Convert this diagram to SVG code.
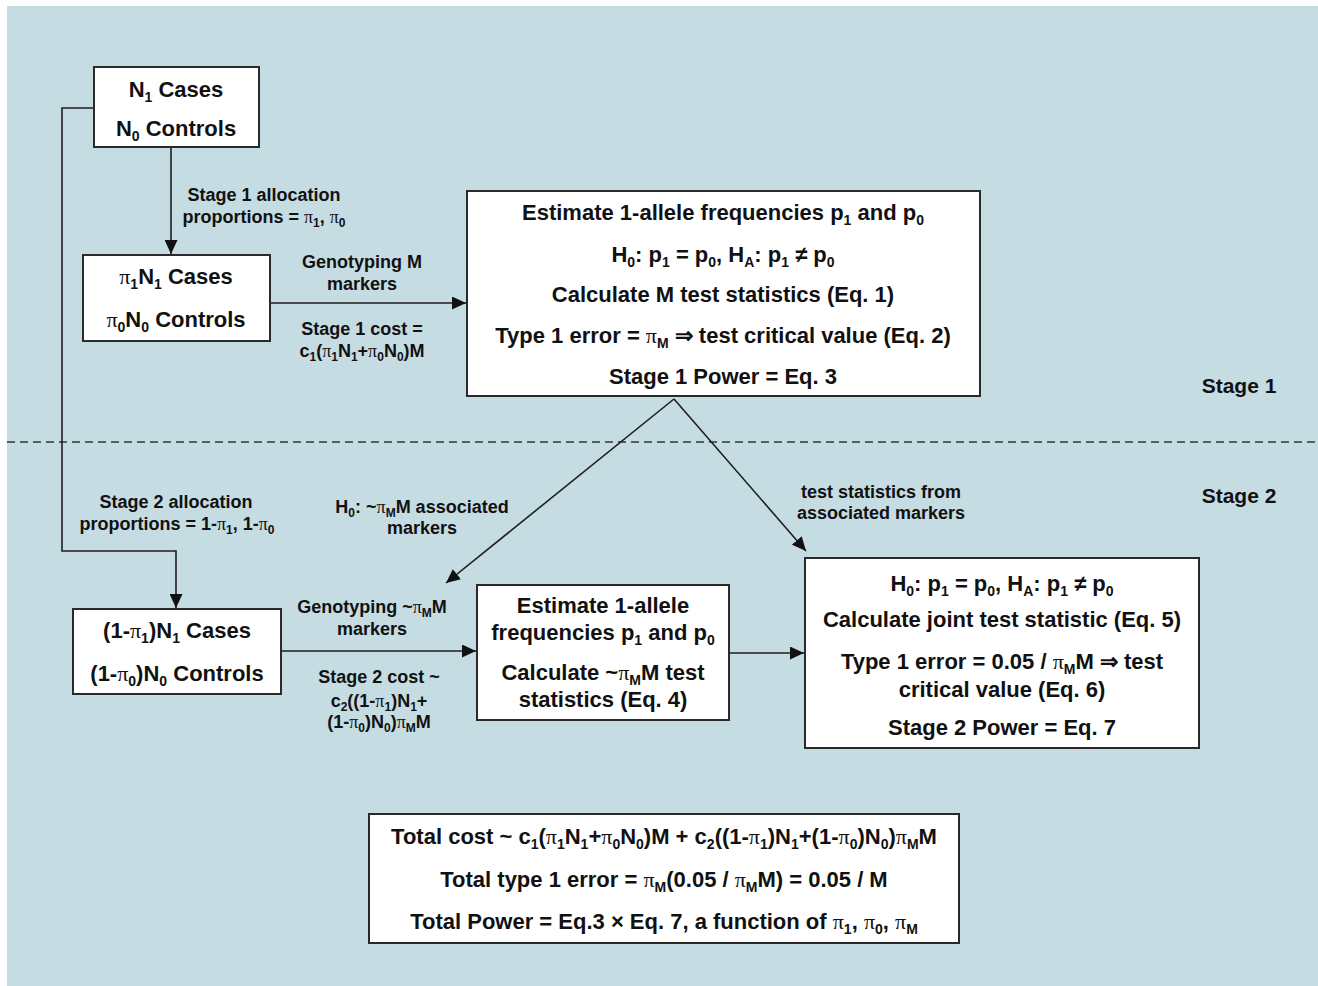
<svg xmlns="http://www.w3.org/2000/svg" width="1318" height="986" viewBox="0 0 1318 986">
<defs>
<style>
.t{font-family:"Liberation Sans",Arial,sans-serif;font-weight:bold;font-size:22px;fill:#111;text-anchor:middle}
.l{font-family:"Liberation Sans",Arial,sans-serif;font-weight:bold;font-size:18px;fill:#111;text-anchor:middle}
.p{font-family:"Liberation Serif","Times New Roman",serif;font-weight:normal}
.t .s{font-size:14px;baseline-shift:-5px}
.l .s{font-size:12px;baseline-shift:-4px}
.box{fill:#fff;stroke:#2a2a2a;stroke-width:2}
.c{fill:none;stroke:#1e1e1e;stroke-width:1.6}
.dash{fill:none;stroke:#333;stroke-width:1.5;stroke-dasharray:8 5}
</style>
<marker id="ah" markerUnits="userSpaceOnUse" markerWidth="15" markerHeight="13" refX="14" refY="6.5" orient="auto">
<path d="M0,0 L14,6.5 L0,13 z" fill="#111"/>
</marker>
</defs>
<rect x="0" y="0" width="1318" height="986" fill="#fff"/>
<rect x="7" y="6" width="1311" height="980" fill="#c6dce3"/>
<line class="dash" x1="7" y1="442" x2="1318" y2="442"/>

<g id="connectors">
<line class="c" x1="171" y1="147" x2="171" y2="254" marker-end="url(#ah)"/>
<line class="c" x1="270" y1="303" x2="466" y2="303" marker-end="url(#ah)"/>
<polyline class="c" points="94,108 62,108 62,551 176,551 176,608" marker-end="url(#ah)"/>
<line class="c" x1="674" y1="399" x2="446" y2="583" marker-end="url(#ah)"/>
<line class="c" x1="674" y1="399" x2="806" y2="551" marker-end="url(#ah)"/>
<line class="c" x1="281" y1="651" x2="476" y2="651" marker-end="url(#ah)"/>
<line class="c" x1="729" y1="653" x2="804" y2="653" marker-end="url(#ah)"/>
</g>

<g id="labels">
<text class="l" x="264" y="201">Stage 1 allocation</text>
<text class="l" x="264" y="223">proportions = <tspan class="p">π</tspan><tspan class="s">1</tspan>, <tspan class="p">π</tspan><tspan class="s">0</tspan></text>
<text class="l" x="362" y="268">Genotyping M</text>
<text class="l" x="362" y="290">markers</text>
<text class="l" x="362" y="335">Stage 1 cost =</text>
<text class="l" x="362" y="357">c<tspan class="s">1</tspan>(<tspan class="p">π</tspan><tspan class="s">1</tspan>N<tspan class="s">1</tspan>+<tspan class="p">π</tspan><tspan class="s">0</tspan>N<tspan class="s">0</tspan>)M</text>
<text class="t" x="1239" y="393" style="font-size:21px">Stage 1</text>
<text class="t" x="1239" y="503" style="font-size:21px">Stage 2</text>
<text class="l" x="176" y="508">Stage 2 allocation</text>
<text class="l" x="177" y="530">proportions = 1-<tspan class="p">π</tspan><tspan class="s">1</tspan>, 1-<tspan class="p">π</tspan><tspan class="s">0</tspan></text>
<text class="l" x="422" y="513">H<tspan class="s">0</tspan>: ~<tspan class="p">π</tspan><tspan class="s">M</tspan>M associated</text>
<text class="l" x="422" y="534">markers</text>
<text class="l" x="881" y="498">test statistics from</text>
<text class="l" x="881" y="519">associated markers</text>
<text class="l" x="372" y="613">Genotyping ~<tspan class="p">π</tspan><tspan class="s">M</tspan>M</text>
<text class="l" x="372" y="635">markers</text>
<text class="l" x="379" y="683">Stage 2 cost ~</text>
<text class="l" x="379" y="707">c<tspan class="s">2</tspan>((1-<tspan class="p">π</tspan><tspan class="s">1</tspan>)N<tspan class="s">1</tspan>+</text>
<text class="l" x="379" y="728">(1-<tspan class="p">π</tspan><tspan class="s">0</tspan>)N<tspan class="s">0</tspan>)<tspan class="p">π</tspan><tspan class="s">M</tspan>M</text>
</g>

<g id="node-sample">
<rect class="box" x="94" y="67" width="165" height="80"/>
<text class="t" x="176" y="97">N<tspan class="s">1</tspan> Cases</text>
<text class="t" x="176" y="136">N<tspan class="s">0</tspan> Controls</text>
</g>

<g id="node-stage1-sample">
<rect class="box" x="83" y="255" width="187" height="86"/>
<text class="t" x="176" y="284"><tspan class="p">π</tspan><tspan class="s">1</tspan>N<tspan class="s">1</tspan> Cases</text>
<text class="t" x="176" y="327"><tspan class="p">π</tspan><tspan class="s">0</tspan>N<tspan class="s">0</tspan> Controls</text>
</g>

<g id="node-stage1-test">
<rect class="box" x="467" y="191" width="513" height="205"/>
<text class="t" x="723" y="220">Estimate 1-allele frequencies p<tspan class="s">1</tspan> and p<tspan class="s">0</tspan></text>
<text class="t" x="723" y="262">H<tspan class="s">0</tspan>: p<tspan class="s">1</tspan> = p<tspan class="s">0</tspan>, H<tspan class="s">A</tspan>: p<tspan class="s">1</tspan> ≠ p<tspan class="s">0</tspan></text>
<text class="t" x="723" y="302">Calculate M test statistics (Eq. 1)</text>
<text class="t" x="723" y="343">Type 1 error = <tspan class="p">π</tspan><tspan class="s">M</tspan> ⇒ test critical value (Eq. 2)</text>
<text class="t" x="723" y="384">Stage 1 Power = Eq. 3</text>
</g>

<g id="node-stage2-sample">
<rect class="box" x="73" y="609" width="208" height="85"/>
<text class="t" x="177" y="638">(1-<tspan class="p">π</tspan><tspan class="s">1</tspan>)N<tspan class="s">1</tspan> Cases</text>
<text class="t" x="177" y="681">(1-<tspan class="p">π</tspan><tspan class="s">0</tspan>)N<tspan class="s">0</tspan> Controls</text>
</g>

<g id="node-stage2-estimate">
<rect class="box" x="477" y="585" width="252" height="135"/>
<text class="t" x="603" y="613">Estimate 1-allele</text>
<text class="t" x="603" y="640">frequencies p<tspan class="s">1</tspan> and p<tspan class="s">0</tspan></text>
<text class="t" x="603" y="680">Calculate ~<tspan class="p">π</tspan><tspan class="s">M</tspan>M test</text>
<text class="t" x="603" y="707">statistics (Eq. 4)</text>
</g>

<g id="node-stage2-test">
<rect class="box" x="805" y="558" width="394" height="190"/>
<text class="t" x="1002" y="591">H<tspan class="s">0</tspan>: p<tspan class="s">1</tspan> = p<tspan class="s">0</tspan>, H<tspan class="s">A</tspan>: p<tspan class="s">1</tspan> ≠ p<tspan class="s">0</tspan></text>
<text class="t" x="1002" y="627">Calculate joint test statistic (Eq. 5)</text>
<text class="t" x="1002" y="669">Type 1 error = 0.05 / <tspan class="p">π</tspan><tspan class="s">M</tspan>M ⇒ test</text>
<text class="t" x="1002" y="697">critical value (Eq. 6)</text>
<text class="t" x="1002" y="735">Stage 2 Power = Eq. 7</text>
</g>

<g id="node-total">
<rect class="box" x="369" y="814" width="590" height="129"/>
<text class="t" x="664" y="844">Total cost ~ c<tspan class="s">1</tspan>(<tspan class="p">π</tspan><tspan class="s">1</tspan>N<tspan class="s">1</tspan>+<tspan class="p">π</tspan><tspan class="s">0</tspan>N<tspan class="s">0</tspan>)M + c<tspan class="s">2</tspan>((1-<tspan class="p">π</tspan><tspan class="s">1</tspan>)N<tspan class="s">1</tspan>+(1-<tspan class="p">π</tspan><tspan class="s">0</tspan>)N<tspan class="s">0</tspan>)<tspan class="p">π</tspan><tspan class="s">M</tspan>M</text>
<text class="t" x="664" y="887">Total type 1 error = <tspan class="p">π</tspan><tspan class="s">M</tspan>(0.05 / <tspan class="p">π</tspan><tspan class="s">M</tspan>M) = 0.05 / M</text>
<text class="t" x="664" y="929">Total Power = Eq.3 × Eq. 7, a function of <tspan class="p">π</tspan><tspan class="s">1</tspan>, <tspan class="p">π</tspan><tspan class="s">0</tspan>, <tspan class="p">π</tspan><tspan class="s">M</tspan></text>
</g>
</svg>
